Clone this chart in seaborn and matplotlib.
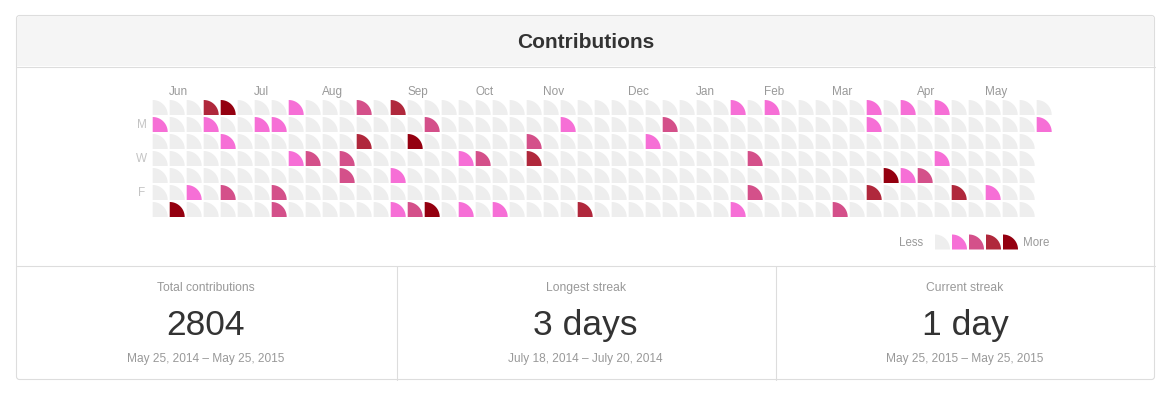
import numpy as np
import pandas as pd
import matplotlib
matplotlib.use("Agg")
import matplotlib.pyplot as plt
import seaborn as sns
from matplotlib.path import Path
from matplotlib.patches import FancyBboxPatch, Rectangle

# ---------------- data ----------------
start_date = "2014-05-25"          # first Sunday of the calendar
n_weeks = 53

# contribution level (0-4) per week column, one list per weekday row
sun = [int(ch) for ch in "0003400010" "0020300000" "0000000000" "0000101000" "0010101000" "000"]
mon = [int(ch) for ch in "1001001100" "0000002000" "0000100000" "2000000000" "0010000000" "001"]
tue = [int(ch) for ch in "0000100000" "0030040000" "0020000001" "0000000000" "0000000000" "00"]
wed = [int(ch) for ch in "0000000012" "0200000012" "0030000000" "0000020000" "0000001000" "00"]
thu = [int(ch) for ch in "0000000000" "0200100000" "0000000000" "0000000000" "0004120000" "00"]
fri = [int(ch) for ch in "0010200200" "0000000000" "0000000000" "0000020000" "0030000301" "00"]
sat = [int(ch) for ch in "0400000200" "0000124010" "1000030000" "0000100000" "2000000000" "00"]
weekday_rows = [sun, mon, tue, wed, thu, fri, sat]

day_labels = ["", "M", "", "W", "", "F", ""]
level_colors = ["#eeeeee", "#f66fd6", "#d4508a", "#b0283c", "#940010"]
legend_levels = [0, 1, 2, 3, 4]

title = "Contributions"
stat_titles = ["Total contributions", "Longest streak", "Current streak"]
stat_values = ["2804", "3 days", "1 day"]
stat_ranges = ["May 25, 2014 \u2013 May 25, 2015",
               "July 18, 2014 \u2013 July 20, 2014",
               "May 25, 2015 \u2013 May 25, 2015"]

# ---------------- build table ----------------
records = []
for r, row in enumerate(weekday_rows):
    for c, lev in enumerate(row):
        records.append({"week": c, "weekday": r, "level": lev})
df = pd.DataFrame(records)

week_starts = pd.date_range(start_date, periods=n_weeks, freq="7D")
month_cols = [c for c in range(1, n_weeks) if week_starts[c].month != week_starts[c - 1].month]

# ---------------- style ----------------
sns.set_theme(style="white")
plt.rcParams["font.family"] = ["Liberation Sans", "DejaVu Sans"]

W, H = 1171, 396
fig = plt.figure(figsize=(W / 100, H / 100), dpi=100)
fig.patch.set_facecolor("white")

# quarter-circle marker (centre of the circle at the cell's bottom-left corner)
t = np.linspace(0, np.pi / 2, 60)
verts = [(-1, -1)] + [(-1 + 2 * np.cos(a), -1 + 2 * np.sin(a)) for a in t] + [(-1, -1)]
codes = [Path.MOVETO] + [Path.LINETO] * len(t) + [Path.CLOSEPOLY]
qmark = Path(verts, codes)
cell_pt = 15 * 72 / 100
msize = cell_pt ** 2

# ---------------- panel frame ----------------
bg = fig.add_axes([0, 0, 1, 1])
bg.set_xlim(0, W)
bg.set_ylim(H, 0)
bg.axis("off")
border = "#dddddd"
bg.add_patch(FancyBboxPatch((16.5, 15.5), 1138, 364, boxstyle="round,pad=0,rounding_size=3",
                            fc="white", ec=border, lw=0.8, zorder=1))
bg.add_patch(FancyBboxPatch((17, 16), 1137, 50, boxstyle="round,pad=0,rounding_size=3",
                            fc="#f5f5f5", ec="none", zorder=2))
bg.add_patch(Rectangle((17, 40), 1137, 26, fc="#f5f5f5", ec="none", zorder=2))
bg.plot([16.5, 1154.5], [66.5, 66.5], color=border, lw=0.8, zorder=3)
bg.plot([16.5, 1154.5], [265.5, 265.5], color=border, lw=0.8, zorder=3)
for xv in (396.5, 775.5):
    bg.plot([xv, xv], [265.5, 379.5], color=border, lw=0.8, zorder=3)

bg.text(585.8, 48.5, title, ha="center", va="baseline", fontsize=15.0,
        fontweight="bold", color="#333333", zorder=4)

centers = [206, 585.5, 965]
for cx, lab, val, rng in zip(centers, stat_titles, stat_values, stat_ranges):
    bg.text(cx, 291, lab, ha="center", va="baseline", fontsize=8.7, color="#999999", zorder=4)
    bg.text(cx, 335, val, ha="center", va="baseline", fontsize=25.5, color="#333333", zorder=4)
    bg.text(cx, 362, rng, ha="center", va="baseline", fontsize=8.6, color="#999999", zorder=4)

bg.text(923.5, 245.5, "Less", ha="right", va="baseline", fontsize=8.3, color="#999999", zorder=4)
bg.text(1023, 245.5, "More", ha="left", va="baseline", fontsize=8.3, color="#999999", zorder=4)

# ---------------- calendar grid ----------------
gx0, gy0 = 151.7, 99.0          # pixel left / top of the grid axes
pitch = 17
ax = fig.add_axes([gx0 / W, 1 - (gy0 + 7 * pitch) / H, n_weeks * pitch / W, 7 * pitch / H])
ax.patch.set_alpha(0)
pal = {i: col for i, col in enumerate(level_colors)}
sns.scatterplot(data=df, x="week", y="weekday", hue="level", palette=pal,
                marker=qmark, s=msize, linewidth=0, edgecolor="none",
                legend=False, ax=ax)
ax.set_xlim(-0.5, n_weeks - 0.5)
ax.set_ylim(6.5, -0.5)
ax.axis("off")

for c in month_cols:
    ax.text(c - 0.47, -0.735, week_starts[c].strftime("%b"), ha="left", va="baseline",
            fontsize=8.5, color="#999999", clip_on=False)
for r, lab in enumerate(day_labels):
    if lab:
        ax.text(-1.07, r + 0.23, lab, ha="center", va="baseline",
                fontsize=8.5, color="#c4c4c4", clip_on=False)

# ---------------- legend swatches ----------------
lx0 = 934.0
lax = fig.add_axes([lx0 / W, 1 - 250.5 / H, 5 * pitch / W, pitch / H])
lax.patch.set_alpha(0)
leg_df = pd.DataFrame({"pos": list(range(len(legend_levels))),
                       "row": [0] * len(legend_levels),
                       "level": legend_levels})
sns.scatterplot(data=leg_df, x="pos", y="row", hue="level", palette=pal,
                marker=qmark, s=msize, linewidth=0, edgecolor="none",
                legend=False, ax=lax)
lax.set_xlim(-0.5, 4.5)
lax.set_ylim(0.5, -0.5)
lax.axis("off")

fig.savefig("out.png", dpi=100, facecolor="white")
